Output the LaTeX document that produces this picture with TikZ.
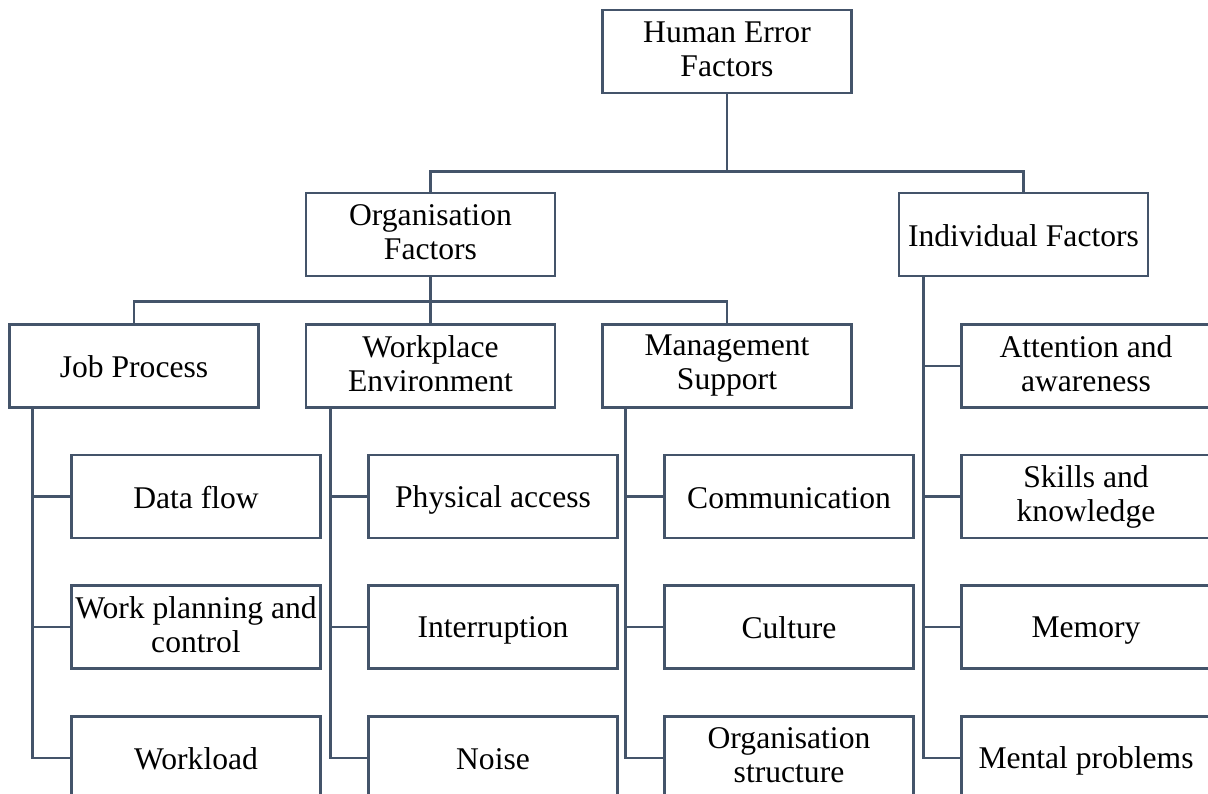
\documentclass[tikz,border=0pt]{standalone}
\usepackage{fontspec}
\setmainfont{Liberation Serif}
\usetikzlibrary{calc}
\definecolor{linec}{HTML}{44546A}
\begin{document}
\begin{tikzpicture}[x=0.5pt,y=-0.5pt,
  box/.style={draw=linec,line width=1.3pt,fill=white,rectangle,minimum width=124.5pt,minimum height=41.5pt,
    inner sep=0pt,align=center,font=\fontsize{15.8}{17}\selectfont,
    execute at begin node={\rule{0pt}{14.2pt}},execute at end node={\rule[-2.5pt]{0pt}{2.5pt}}},
  conn/.style={draw=linec,line width=1.3pt}]
\useasboundingbox (0,0) rectangle (1208,793);
\clip (0,0) rectangle (1208,793);
% level 1
\node[box] (hef) at (727,51.5) {Human Error\\Factors};
% level 2
\node[box] (org) at (430.5,234.5) {Organisation\\Factors};
\node[box] (ind) at (1023.5,234.5) {Individual Factors};
% level 3
\node[box] (job) at (134,366) {Job Process};
\node[box] (wpe) at (430.5,366) {Workplace\\Environment};
\node[box] (mgs) at (727,366) {Management\\Support};
% children
\node[box] (j1) at (196,496.5) {Data flow};
\node[box] (j2) at (196,627) {Work planning and\\control};
\node[box] (j3) at (196,758) {Workload};
\node[box] (w1) at (493,496.5) {Physical access};
\node[box] (w2) at (493,627) {Interruption};
\node[box] (w3) at (493,758) {Noise};
\node[box] (m1) at (789,496.5) {Communication};
\node[box] (m2) at (789,627) {Culture};
\node[box] (m3) at (789,758) {Organisation\\structure};
\node[box] (i1) at (1086,366) {Attention and\\awareness};
\node[box] (i2) at (1086,496.5) {Skills and\\knowledge};
\node[box] (i3) at (1086,627) {Memory};
\node[box] (i4) at (1086,758) {Mental problems};
% tree connectors
\draw[conn] (hef.south) -- ++(0,77) -| (org.north);
\draw[conn] (hef.south) -- ++(0,77) -| (ind.north);
\draw[conn] (org.south) -- ++(0,24) -| (job.north);
\draw[conn] (org.south) -- ++(0,24) -| (mgs.north);
\draw[conn] (org.south) -- (wpe.north);
% trunks
\coordinate (jt) at ($(job.south west)+(24,0)$);
\coordinate (wt) at ($(wpe.south west)+(26,0)$);
\coordinate (mt) at ($(mgs.south west)+(24,0)$);
\coordinate (it) at ($(ind.south west)+(26,0)$);
\draw[conn] (jt) |- (j3.west);
\draw[conn] (jt) |- (j1.west);
\draw[conn] (jt) |- (j2.west);
\draw[conn] (wt) |- (w3.west);
\draw[conn] (wt) |- (w1.west);
\draw[conn] (wt) |- (w2.west);
\draw[conn] (mt) |- (m3.west);
\draw[conn] (mt) |- (m1.west);
\draw[conn] (mt) |- (m2.west);
\draw[conn] (it) |- (i4.west);
\draw[conn] (it) |- (i1.west);
\draw[conn] (it) |- (i2.west);
\draw[conn] (it) |- (i3.west);
\end{tikzpicture}
\end{document}
